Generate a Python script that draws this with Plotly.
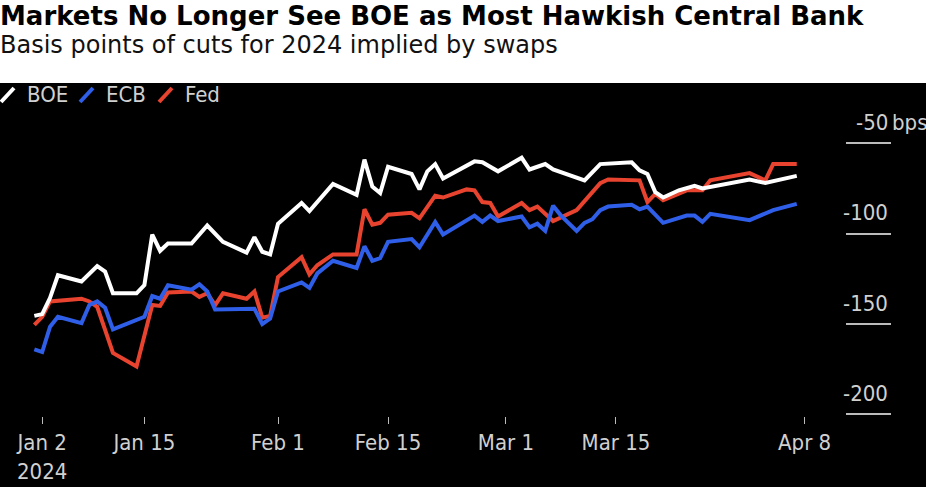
import plotly.graph_objects as go

# basis points of 2024 cuts implied by swaps
boe_dates = [
    "2024-01-01", "2024-01-02", "2024-01-03", "2024-01-04", "2024-01-07", "2024-01-09",
    "2024-01-10", "2024-01-11", "2024-01-14", "2024-01-15", "2024-01-16", "2024-01-17",
    "2024-01-18", "2024-01-21", "2024-01-23", "2024-01-25", "2024-01-28", "2024-01-29",
    "2024-01-30", "2024-01-31", "2024-02-01", "2024-02-04", "2024-02-05", "2024-02-06",
    "2024-02-08", "2024-02-11", "2024-02-12", "2024-02-13", "2024-02-14", "2024-02-15",
    "2024-02-18", "2024-02-19", "2024-02-20", "2024-02-21", "2024-02-22", "2024-02-26",
    "2024-02-27", "2024-02-29", "2024-03-03", "2024-03-04", "2024-03-06", "2024-03-07",
    "2024-03-11", "2024-03-13", "2024-03-17", "2024-03-18", "2024-03-19", "2024-03-20",
    "2024-03-21", "2024-03-23", "2024-03-25", "2024-03-26", "2024-04-01", "2024-04-03",
    "2024-04-07",
]
boe_bps = [
    -145.5, -144.5, -135.5, -123, -126.5, -118,
    -121, -133, -133, -128.5, -100.5, -109.5,
    -105.5, -105.5, -95.5, -104.5, -110.5, -102,
    -110, -111.5, -94.5, -83, -87.5, -82.5,
    -72.5, -78.5, -59, -74, -77.5, -63,
    -67, -75.5, -65.5, -61.5, -69.5, -60,
    -60.5, -65.5, -58, -64.5, -61.5, -64.5,
    -70.5, -61.5, -60.5, -65, -67, -77,
    -80, -76, -73.5, -75, -70, -72,
    -68,
]

ecb_dates = [
    "2024-01-01", "2024-01-02", "2024-01-03", "2024-01-04", "2024-01-07", "2024-01-08",
    "2024-01-09", "2024-01-10", "2024-01-11", "2024-01-15", "2024-01-16", "2024-01-17",
    "2024-01-18", "2024-01-21", "2024-01-22", "2024-01-23", "2024-01-24", "2024-01-28",
    "2024-01-29", "2024-01-30", "2024-01-31", "2024-02-01", "2024-02-04", "2024-02-05",
    "2024-02-06", "2024-02-08", "2024-02-11", "2024-02-12", "2024-02-13", "2024-02-14",
    "2024-02-15", "2024-02-18", "2024-02-19", "2024-02-21", "2024-02-22", "2024-02-26",
    "2024-02-27", "2024-02-28", "2024-02-29", "2024-03-03", "2024-03-04", "2024-03-05",
    "2024-03-06", "2024-03-07", "2024-03-08", "2024-03-10", "2024-03-11", "2024-03-12",
    "2024-03-13", "2024-03-14", "2024-03-17", "2024-03-18", "2024-03-19", "2024-03-21",
    "2024-03-24", "2024-03-25", "2024-03-26", "2024-03-27", "2024-04-01", "2024-04-04",
    "2024-04-07",
]
ecb_bps = [
    -164, -165.5, -151.5, -146, -149.5, -139.5,
    -137.5, -141, -153, -146, -134.5, -136,
    -128.5, -131, -128, -132, -142, -142,
    -141.5, -150, -147, -132, -127, -130,
    -122, -115, -119, -107, -115, -113.5,
    -104.5, -103, -107.5, -93.5, -100.5, -90,
    -93.5, -90, -93, -90.5, -96.5, -94.5,
    -98.5, -84.5, -90, -98.5, -94, -92,
    -87, -85, -84, -86.5, -85, -94,
    -90, -90, -93.5, -89, -92.5, -87,
    -83.5,
]

fed_dates = [
    "2024-01-01", "2024-01-02", "2024-01-03", "2024-01-07", "2024-01-08", "2024-01-09",
    "2024-01-11", "2024-01-14", "2024-01-16", "2024-01-17", "2024-01-18", "2024-01-21",
    "2024-01-22", "2024-01-23", "2024-01-24", "2024-01-25", "2024-01-28", "2024-01-29",
    "2024-01-30", "2024-01-31", "2024-02-01", "2024-02-04", "2024-02-05", "2024-02-06",
    "2024-02-08", "2024-02-11", "2024-02-12", "2024-02-13", "2024-02-14", "2024-02-15",
    "2024-02-18", "2024-02-19", "2024-02-21", "2024-02-22", "2024-02-25", "2024-02-26",
    "2024-02-27", "2024-02-28", "2024-02-29", "2024-03-03", "2024-03-04", "2024-03-05",
    "2024-03-07", "2024-03-10", "2024-03-13", "2024-03-14", "2024-03-18", "2024-03-19",
    "2024-03-20", "2024-03-21", "2024-03-24", "2024-03-26", "2024-03-27", "2024-04-01",
    "2024-04-03", "2024-04-04", "2024-04-07",
]
fed_bps = [
    -150.5, -146, -137.5, -136, -137.5, -140.5,
    -166, -173.5, -139.5, -140, -132.5, -132,
    -135, -133, -139.5, -133, -136, -132,
    -146.5, -145.5, -124, -113, -122.5, -117.5,
    -111.5, -111.5, -86.5, -95, -94, -89.5,
    -88.5, -91.5, -79, -80, -75.5, -76,
    -82.5, -83, -90.5, -83, -87, -85,
    -93, -87, -72, -70, -70.5, -82.5,
    -78, -81.5, -76, -76, -70.5, -66.5,
    -70.5, -61.5, -61.5,
]

tick_dates = ["2024-01-02", "2024-01-15", "2024-02-01", "2024-02-15",
              "2024-03-01", "2024-03-15", "2024-04-08"]
tick_text = ["Jan 2<br>2024", "Jan 15", "Feb 1", "Feb 15", "Mar 1", "Mar 15", "Apr 8"]
y_ticks = [-50, -100, -150, -200]
y_text = ["-50", "-100", "-150", "-200"]

series_names = ["BOE", "ECB", "Fed"]
series_colors = ["#ffffff", "#2f5fe8", "#e8432f"]

FONT = "DejaVu Sans, Liberation Sans, sans-serif"
AXFONT = "DejaVu Sans Condensed, Roboto Condensed, Roboto, sans-serif"
GREY = "#d0d0d0"
LEFT = -0.0368   # paper x of the figure's left edge
LEG_Y = 1.0845   # paper y of the legend row

fig = go.Figure()

# Fed first so ECB and BOE sit on top, as in the original
fig.add_trace(go.Scatter(x=fed_dates, y=fed_bps, mode="lines", name="Fed",
                         line=dict(color=series_colors[2], width=4)))
fig.add_trace(go.Scatter(x=ecb_dates, y=ecb_bps, mode="lines", name="ECB",
                         line=dict(color=series_colors[1], width=4)))
fig.add_trace(go.Scatter(x=boe_dates, y=boe_bps, mode="lines", name="BOE",
                         line=dict(color=series_colors[0], width=4)))

annotations = []
shapes = [dict(type="rect", xref="paper", yref="paper",
               x0=-0.1, x1=1.2, y0=-0.4, y1=1.125,
               fillcolor="black", line=dict(width=0), layer="below")]

# right-hand y labels sit above their short rule lines
for v, t in zip(y_ticks, y_text):
    annotations.append(dict(x=1, xref="paper", xshift=45, xanchor="right",
                            y=v, yref="y", yshift=21, yanchor="middle",
                            text=t, showarrow=False,
                            font=dict(family=AXFONT, size=22, color=GREY)))
annotations.append(dict(x=1, xref="paper", xshift=45, xanchor="left",
                        y=y_ticks[0], yref="y", yshift=21, yanchor="middle",
                        text="bps", showarrow=False,
                        font=dict(family=AXFONT, size=22, color=GREY)))

# legend: thick slash swatch + name
for i, (name, col) in enumerate(zip(series_names, series_colors)):
    shapes.append(dict(type="line", xref="paper", yref="paper",
                       xsizemode="pixel", ysizemode="pixel",
                       xanchor=LEFT, yanchor=LEG_Y,
                       x0=i * 79 + 1, x1=i * 79 + 14, y0=-7, y1=7,
                       line=dict(color=col, width=4)))
    annotations.append(dict(x=LEFT, xref="paper", xanchor="left", xshift=i * 79 + 25,
                            y=LEG_Y, yref="paper", yanchor="middle",
                            text=name, showarrow=False,
                            font=dict(family=AXFONT, size=22, color=GREY)))

annotations.append(dict(x=LEFT, xref="paper", xanchor="left", xshift=-2,
                        y=1.255, yref="paper", yanchor="middle",
                        text="Basis points of cuts for 2024 implied by swaps",
                        showarrow=False,
                        font=dict(family=FONT, size=24, color="#111111")))

fig.update_layout(
    width=926, height=487,
    margin=dict(l=30, r=81, t=120, b=71, autoexpand=False),
    paper_bgcolor="white",
    plot_bgcolor="black",
    showlegend=False,
    title=dict(text="<b>Markets No Longer See BOE as Most Hawkish Central Bank</b>",
               x=0, xref="container", xanchor="left",
               y=0.968, yref="container", yanchor="middle",
               font=dict(family=FONT, size=26, color="black")),
    shapes=shapes,
    annotations=annotations,
    xaxis=dict(type="date", range=["2023-12-31 10:45", "2024-04-13 03:20"],
               tickvals=tick_dates, ticktext=tick_text,
               ticks="outside", ticklen=7, tickcolor="#bbbbbb", tickwidth=1,
               showgrid=False, zeroline=False, showline=False,
               tickfont=dict(family=AXFONT, size=22, color=GREY)),
    yaxis=dict(range=[-200.9, -37.1], side="right",
               tickvals=y_ticks, showticklabels=False,
               ticks="outside", ticklen=45, tickcolor="#bbbbbb", tickwidth=1.5,
               showgrid=False, zeroline=False, showline=False),
)

fig.write_html("out.html", config={"displayModeBar": False},
               post_script="document.body.style.margin='0px';")
